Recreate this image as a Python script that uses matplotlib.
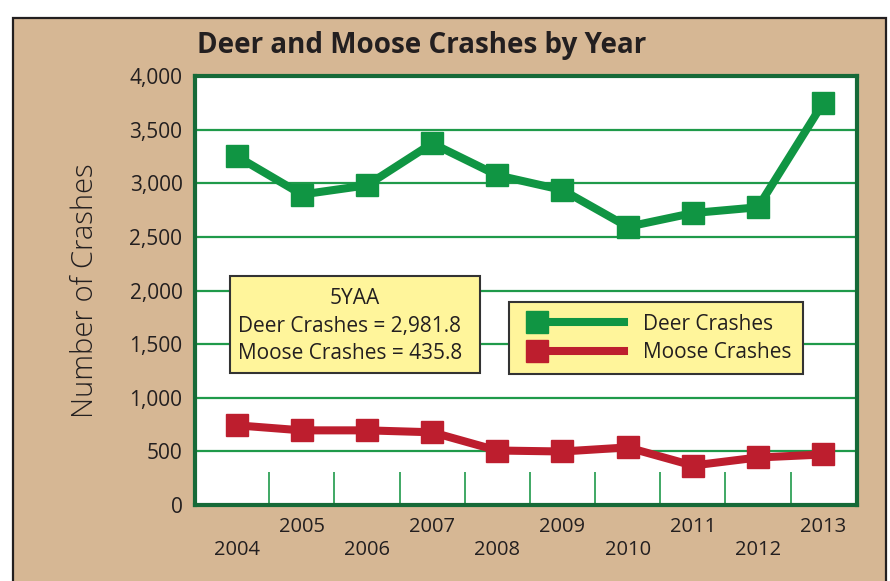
import numpy as np
import matplotlib.pyplot as plt
from matplotlib.patches import Rectangle
from matplotlib.lines import Line2D
from matplotlib.ticker import FixedLocator
from matplotlib.legend_handler import HandlerLine2D

# crash counts by year
years = np.arange(2004, 2014)
deer_crashes = [3252, 2895, 2981, 3372, 3074, 2937, 2594, 2722, 2776, 3748]
moose_crashes = [743, 696, 696, 678, 508, 499, 537, 368, 443, 471]

# five year average (5YAA)
deer_5yaa = 2981.8
moose_5yaa = 435.8

y_ticks = [0, 500, 1000, 1500, 2000, 2500, 3000, 3500, 4000]

tan = "#d6b794"
deer_color = "#109543"
moose_color = "#bd1e2e"
grid_color = "#1f9a4a"
frame_color = "#166a38"
box_color = "#fff59b"


# legend key with the square marker at the left end of the line
class MarkerAtStart(HandlerLine2D):
    def create_artists(self, legend, orig_handle, xdescent, ydescent,
                       width, height, fontsize, trans):
        artists = super().create_artists(legend, orig_handle, xdescent,
                                         ydescent, width, height, fontsize,
                                         trans)
        line = artists[0]
        x = line.get_xdata()
        y = line.get_ydata()
        x0 = x[0] + 0.11 * (x[-1] - x[0])
        line.set_data([x0, x[-1]], [y[0], y[-1]])
        line.set_markevery([0])
        return [line]


plt.rcParams["font.family"] = ["Open Sans", "DejaVu Sans"]

fig = plt.figure(figsize=(8.9, 5.81), dpi=100, facecolor="white")
fig.patches.append(Rectangle((13 / 890, -0.02), 873 / 890, 563 / 581 + 0.02,
                             transform=fig.transFigure, facecolor=tan,
                             edgecolor="#231f20", linewidth=1.6, zorder=-5))

ax = fig.add_axes([195 / 890, 1 - 505 / 581, 662 / 890, 429 / 581])
ax.set_facecolor("white")

ax.plot(years, deer_crashes, color=deer_color, lw=5.8, marker="s", ms=16,
        solid_joinstyle="miter", zorder=3)
ax.plot(years, moose_crashes, color=moose_color, lw=5.8, marker="s", ms=16,
        solid_joinstyle="miter", zorder=3)

ax.set_xlim(2003.36, 2013.52)
ax.set_ylim(0, 4000)
ax.set_yticks(y_ticks)
ax.set_yticklabels([f"{v:,}" for v in y_ticks], fontsize=15, color="#231f20")
ax.yaxis.grid(True, color=grid_color, lw=1.6)
ax.set_axisbelow(True)
ax.tick_params(axis="y", length=0, pad=9)

# odd years on the upper row, even years on the lower row
ax.set_xticks(years)
ax.set_xticklabels([str(y) if y % 2 else "\n" + str(y) for y in years],
                   fontsize=14.5, color="#231f20", linespacing=1.15)
ax.tick_params(axis="x", which="major", length=0, pad=9)
ax.xaxis.set_minor_locator(FixedLocator(years[:-1] + 0.5))
ax.tick_params(axis="x", which="minor", direction="in", length=24,
               width=1.2, color=grid_color)

for s in ax.spines.values():
    s.set_color(frame_color)
    s.set_linewidth(3)

fig.text(422 / 890, 1 - 45 / 581, "Deer and Moose Crashes by Year",
         ha="center", va="center", fontsize=20, fontweight="bold",
         color="#231f20")
fig.text(85 / 890, 1 - 291 / 581, "Number of Crashes", rotation=90,
         ha="center", va="center", fontsize=21, fontweight="light",
         color="#231f20")

# 5YAA box
ax.add_patch(Rectangle((0.053, 0.308), 0.378, 0.226, transform=ax.transAxes,
                       facecolor=box_color, edgecolor="#333333", lw=1.5,
                       zorder=4))
ax.text(0.242, 0.4825, "5YAA", transform=ax.transAxes, ha="center",
        va="center", fontsize=15, color="#231f20", zorder=5)
ax.text(0.065, 0.415, f"Deer Crashes = {deer_5yaa:,.1f}",
        transform=ax.transAxes, ha="left", va="center", fontsize=15,
        color="#231f20", zorder=5)
ax.text(0.065, 0.352, f"Moose Crashes = {moose_5yaa:,.1f}",
        transform=ax.transAxes, ha="left", va="center", fontsize=15,
        color="#231f20", zorder=5)

handles = [
    Line2D([], [], color=deer_color, lw=5.8, marker="s", ms=16),
    Line2D([], [], color=moose_color, lw=5.8, marker="s", ms=16),
]
leg = ax.legend(handles, ["Deer Crashes", "Moose Crashes"], loc="upper left",
                bbox_to_anchor=(0.474, 0.473), borderaxespad=0,
                handler_map={Line2D: MarkerAtStart(numpoints=2)},
                handlelength=5.3, handletextpad=0.58, labelspacing=0.35,
                fontsize=15, fancybox=False, framealpha=1, borderpad=0.55)
leg.get_frame().set_facecolor(box_color)
leg.get_frame().set_edgecolor("#333333")
leg.get_frame().set_linewidth(1.5)
for t in leg.get_texts():
    t.set_color("#231f20")

fig.savefig("out.png", dpi=100, facecolor="white")
